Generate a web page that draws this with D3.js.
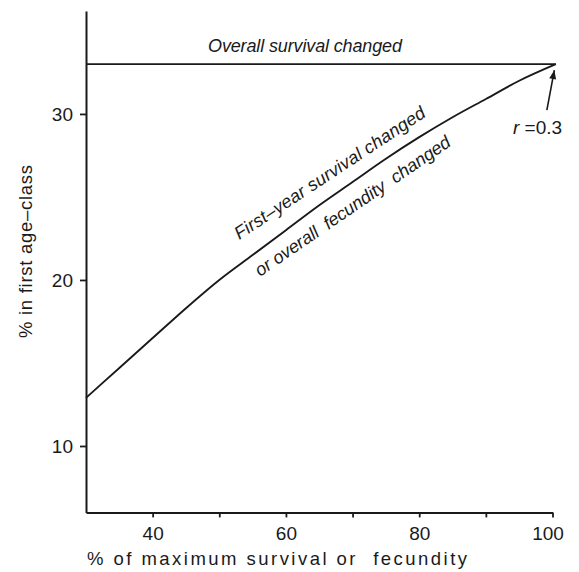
<!DOCTYPE html>
<html><head><meta charset="utf-8">
<script src="https://cdn.jsdelivr.net/npm/d3@7"></script>
<style>
body{margin:0;background:#fff;}
text{font-family:"Liberation Sans",Arial,Helvetica,sans-serif;fill:#1a1a1a;}
</style></head>
<body><svg id="c" width="579" height="572"></svg>
<script>
// Data
const curveX = [30, 35, 40, 45, 50, 55, 60, 65, 70, 75, 80, 85, 90, 95, 100.5];
const curveY = [12.9, 14.7, 16.5, 18.3, 20.0, 21.5, 23.0, 24.5, 25.9, 27.3, 28.6, 29.8, 30.9, 32.0, 33.0];
const overallX = [30, 100.5];
const overallY = [33.0, 33.0];
const xTicks = [40, 50, 60, 70, 80, 90, 100];
const xTickLabels = ["40", "", "60", "", "80", "", "100"];
const yTicks = [10, 20, 30];
const yTickLabels = ["10", "20", "30"];
const xTitle = "% of maximum survival or\u00a0 fecundity";
const yTitle = "% in first age\u2013class";
const labelOverall = "Overall survival changed";
const labelCurve1 = "First\u2013year survival changed";
const labelCurve2 = "or overall\u00a0 fecundity\u00a0 changed";
const rValue = "0.3";

const svg = d3.select("#c");
const ink = "#1a1a1a";
const x = d3.scaleLinear().domain([30, 100]).range([86, 552.5]);
const y = d3.scaleLinear().domain([6, 36.2]).range([512.4, 11]);

// Axes
const xAxis = d3.axisBottom(x).tickValues(xTicks)
  .tickFormat((d, i) => xTickLabels[i]).tickSizeOuter(0).tickSizeInner(5).tickPadding(9);
const gx = svg.append("g").attr("transform", `translate(0,${y(6)})`).call(xAxis);
gx.select(".domain").attr("stroke", ink).attr("stroke-width", 2);
gx.selectAll(".tick line").attr("stroke", ink).attr("stroke-width", 1.8);
gx.selectAll(".tick text").attr("font-size", 19).style("fill", ink)
  .attr("dx", d => d === 100 ? -5 : 0);

const yAxis = d3.axisLeft(y).tickValues(yTicks)
  .tickFormat((d, i) => yTickLabels[i]).tickSizeOuter(0).tickSizeInner(6).tickPadding(7);
const gy = svg.append("g").attr("transform", `translate(${x(30)},0)`).call(yAxis);
gy.select(".domain").attr("stroke", ink).attr("stroke-width", 2);
gy.selectAll(".tick line").attr("stroke", ink).attr("stroke-width", 1.8);
gy.selectAll(".tick text").attr("font-size", 19).style("fill", ink);

// Axis titles
svg.append("text").attr("x", 87).attr("y", 565)
  .attr("font-size", 18.5).attr("textLength", 380).attr("lengthAdjust", "spacing").text(xTitle);
svg.append("text").attr("transform", "translate(32,338) rotate(-90)")
  .attr("font-size", 18.5).attr("textLength", 173).attr("lengthAdjust", "spacing").text(yTitle);

// Lines
const line = d3.line().x(d => x(d[0])).y(d => y(d[1]));
svg.append("path").datum(overallX.map((v, i) => [v, overallY[i]]))
  .attr("d", line).attr("fill", "none").attr("stroke", ink).attr("stroke-width", 1.9);
svg.append("path").datum(curveX.map((v, i) => [v, curveY[i]]))
  .attr("d", line.curve(d3.curveMonotoneX)).attr("fill", "none").attr("stroke", ink).attr("stroke-width", 1.9);

// Labels
svg.append("text").attr("x", 208).attr("y", 52)
  .attr("font-size", 18).attr("font-style", "italic")
  .attr("textLength", 194).attr("lengthAdjust", "spacing").text(labelOverall);

svg.append("text").attr("transform", "translate(333,178) rotate(-33.5)").attr("text-anchor", "middle")
  .attr("font-size", 18).attr("font-style", "italic")
  .attr("textLength", 225).attr("lengthAdjust", "spacing").text(labelCurve1);
svg.append("text").attr("transform", "translate(356,211) rotate(-34.5)").attr("text-anchor", "middle")
  .attr("font-size", 18).attr("font-style", "italic")
  .attr("textLength", 233).attr("lengthAdjust", "spacing").text(labelCurve2);

// r annotation with arrow
const px = x(100.5), py = y(33.0);
const ax0 = px - 9, ay0 = py + 46, ax1 = px - 1.5, ay1 = py + 6;
svg.append("line").attr("x1", ax0).attr("y1", ay0).attr("x2", ax1).attr("y2", ay1)
  .attr("stroke", ink).attr("stroke-width", 1.6);
const ang = Math.atan2(ay1 - ay0, ax1 - ax0);
const hl = 9, hw = 3.5;
const bx = ax1 - hl * Math.cos(ang), by = ay1 - hl * Math.sin(ang);
svg.append("path").attr("d",
  `M${ax1},${ay1} L${bx + hw * Math.sin(ang)},${by - hw * Math.cos(ang)} L${bx - hw * Math.sin(ang)},${by + hw * Math.cos(ang)} Z`)
  .attr("fill", ink);
const rt = svg.append("text").attr("x", 513).attr("y", 134).attr("font-size", 19);
rt.append("tspan").attr("font-style", "italic").text("r");
rt.append("tspan").text(" =" + rValue);
</script></body></html>
